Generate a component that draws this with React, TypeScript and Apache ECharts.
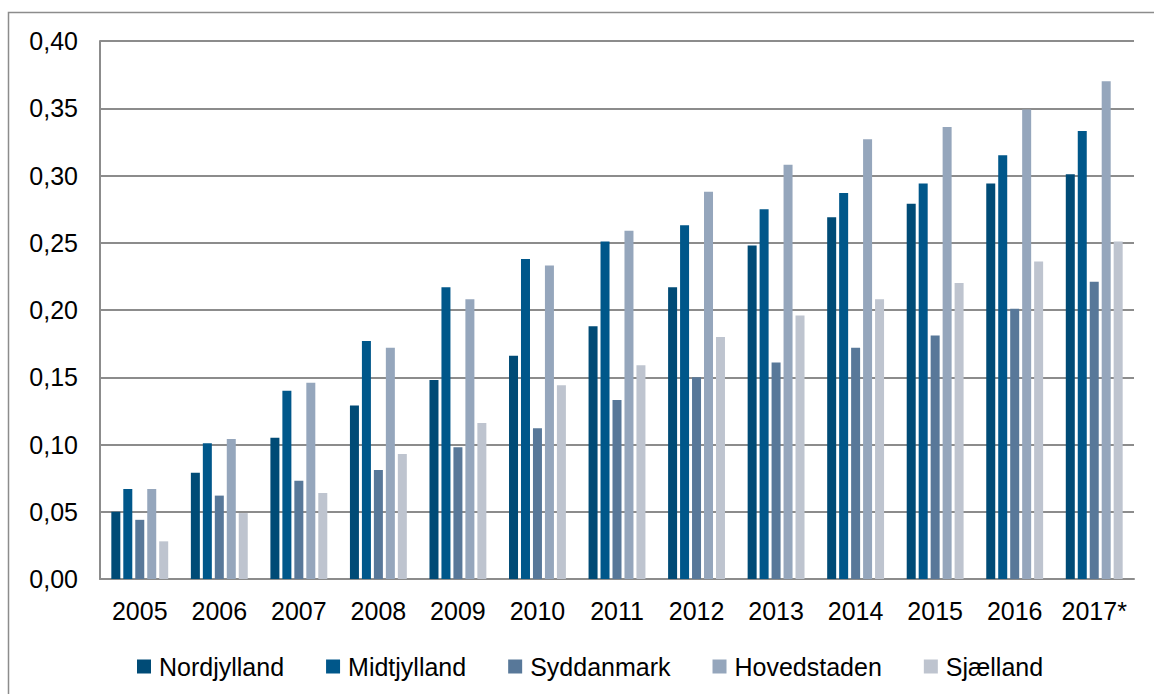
import React, { useEffect, useRef } from "react";
import * as echarts from "echarts";

const categories = ["2005", "2006", "2007", "2008", "2009", "2010", "2011", "2012", "2013", "2014", "2015", "2016", "2017*"];
const nordjylland = [0.05, 0.079, 0.105, 0.129, 0.148, 0.166, 0.188, 0.217, 0.248, 0.269, 0.279, 0.294, 0.301];
const midtjylland = [0.067, 0.101, 0.14, 0.177, 0.217, 0.238, 0.251, 0.263, 0.275, 0.287, 0.294, 0.315, 0.333];
const syddanmark = [0.044, 0.062, 0.073, 0.081, 0.098, 0.112, 0.133, 0.15, 0.161, 0.172, 0.181, 0.201, 0.221];
const hovedstaden = [0.067, 0.104, 0.146, 0.172, 0.208, 0.233, 0.259, 0.288, 0.308, 0.327, 0.336, 0.349, 0.37];
const sjaelland = [0.028, 0.049, 0.064, 0.093, 0.116, 0.144, 0.159, 0.18, 0.196, 0.208, 0.22, 0.236, 0.251];

const seriesNames = ["Nordjylland", "Midtjylland", "Syddanmark", "Hovedstaden", "Sjælland"];
const seriesData = [nordjylland, midtjylland, syddanmark, hovedstaden, sjaelland];
const colors = ["#004B76", "#00578A", "#587899", "#95A6BC", "#BEC4CF"];

export default function App() {
  const ref = useRef<HTMLDivElement>(null);
  useEffect(() => {
    if (!ref.current) return;
    const chart = echarts.init(ref.current, undefined, { renderer: "svg" });
    const font = "'Liberation Sans', Arial, sans-serif";
    chart.setOption({
      animation: false,
      backgroundColor: "#ffffff",
      graphic: [
        {
          type: "rect",
          shape: { x: 8.5, y: 12.5, width: 1160, height: 700 },
          style: { fill: "none", stroke: "#8c8c8c", lineWidth: 1.5 },
          silent: true,
        },
      ],
      grid: { left: 100, top: 41, right: 20, bottom: 115 },
      legend: {
        data: seriesNames,
        top: 649,
        left: 132,
        icon: "rect",
        itemWidth: 14,
        itemHeight: 14,
        itemGap: 42,
        itemStyle: { borderWidth: 0 },
        textStyle: { fontFamily: font, fontSize: 25, color: "#000", padding: [0, 0, 0, 3] },
      },
      xAxis: {
        type: "category",
        data: categories,
        axisTick: { show: false },
        axisLine: { lineStyle: { color: "#8c8c8c", width: 2 } },
        axisLabel: { fontFamily: font, fontSize: 25, color: "#000", margin: 19, interval: 0 },
      },
      yAxis: {
        type: "value",
        min: 0,
        max: 0.4,
        interval: 0.05,
        axisLine: { show: true, lineStyle: { color: "#8c8c8c", width: 2 } },
        axisTick: { show: false },
        splitLine: { lineStyle: { color: "#8c8c8c", width: 2 } },
        axisLabel: {
          fontFamily: font,
          fontSize: 25,
          color: "#000",
          margin: 22,
          formatter: (v: number) => v.toFixed(2).replace(".", ","),
        },
      },
      series: seriesNames.map((name, i) => ({
        name,
        type: "bar",
        data: seriesData[i],
        barWidth: 9,
        barGap: "33%",
        itemStyle: { color: colors[i] },
      })),
    });
    return () => chart.dispose();
  }, []);
  return (
    <div
      ref={ref}
      style={{ position: "fixed", left: 0, top: 0, width: 1154, height: 694 }}
    />
  );
}
